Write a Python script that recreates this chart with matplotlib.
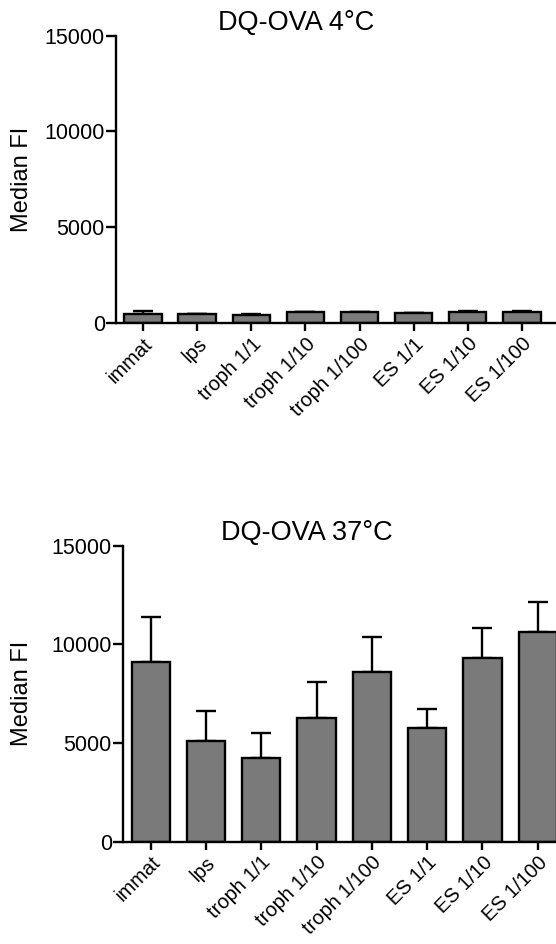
import matplotlib
matplotlib.use("Agg")
import matplotlib.pyplot as plt
import numpy as np

plt.rcParams['font.family'] = ['Liberation Sans', 'DejaVu Sans']

# groups on the x axis
groups = ["immat", "lps", "troph 1/1", "troph 1/10", "troph 1/100",
          "ES 1/1", "ES 1/10", "ES 1/100"]

# DQ-OVA 4°C, median FI and upper error (SD)
cold_mean = [500, 480, 440, 560, 560, 520, 600, 580]
cold_err = [120, 20, 60, 30, 30, 30, 60, 50]

# DQ-OVA 37°C
warm_mean = [9100, 5080, 4230, 6250, 8620, 5780, 9320, 10600]
warm_err = [2300, 1520, 1260, 1850, 1750, 920, 1530, 1550]

fig = plt.figure(figsize=(5.56, 9.44), dpi=100)


def panel(rect, mean, err, title, xmax, title_x, label_x):
    ax = fig.add_axes(rect)
    x = np.arange(len(groups))
    low = np.zeros(len(mean))
    ax.errorbar(x, mean, yerr=[low, err], fmt='none', ecolor='black',
                elinewidth=1.7, capsize=7, capthick=1.7, zorder=1)
    ax.bar(x, mean, width=0.69, color='#7a7a7a', edgecolor='black',
           linewidth=1.7, zorder=2)
    ax.set_xlim(-0.5, xmax)
    ax.set_ylim(0, 15000)
    ax.set_yticks([0, 5000, 10000, 15000])
    ax.set_xticks(x)
    ax.set_xticklabels(groups, rotation=45, ha='right', va='top',
                       rotation_mode='anchor', fontsize=14.5)
    ax.tick_params(axis='y', labelsize=15.5, length=7, width=1.7, pad=1)
    ax.tick_params(axis='x', length=6, width=1.7, pad=2)
    for s in ['top', 'right']:
        ax.spines[s].set_visible(False)
    for s in ['left', 'bottom']:
        ax.spines[s].set_linewidth(1.7)
    ax.set_ylabel("Median FI", fontsize=17)
    ax.yaxis.set_label_coords(label_x, 0.5)
    ax.set_title(title, fontsize=19.5, x=title_x, pad=3)
    return ax


panel([0.2086, 0.6576, 0.7914, 0.3047], cold_mean, cold_err,
      "DQ-OVA 4°C", 7.63, 0.41, -0.189)
panel([0.2212, 0.1084, 0.7788, 0.3136], warm_mean, warm_err,
      "DQ-OVA 37°C", 7.33, 0.425, -0.208)

fig.savefig("out.png", dpi=100)
